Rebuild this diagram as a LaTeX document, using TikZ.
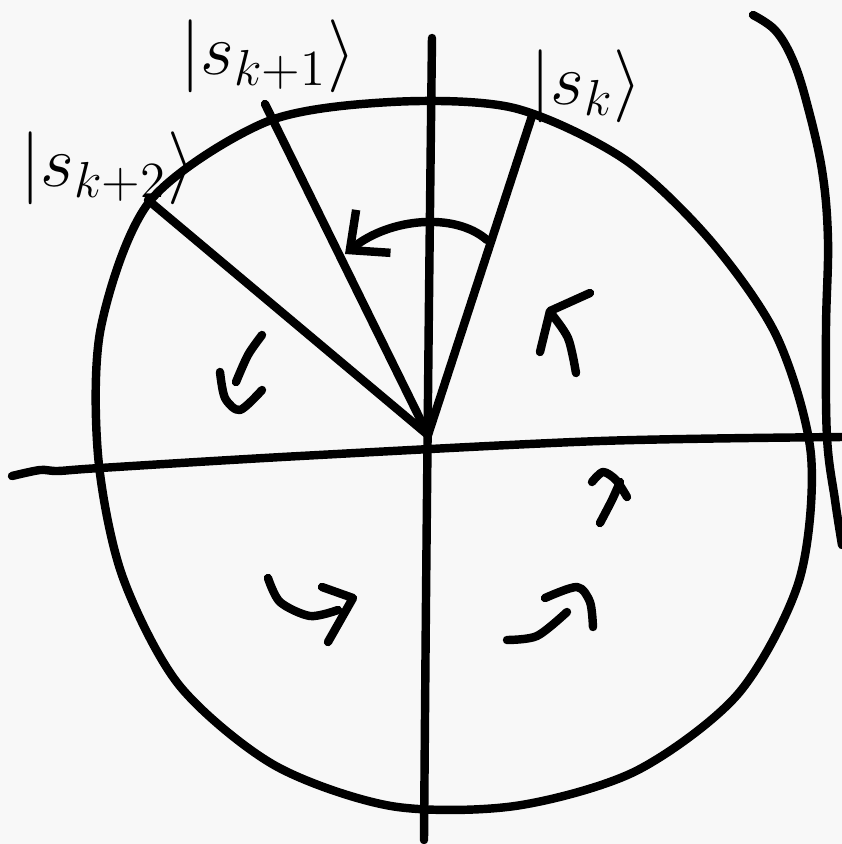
\documentclass[tikz,border=0pt]{standalone}
\usepackage{amsmath,amssymb}
\usetikzlibrary{arrows.meta,calc}
\definecolor{paper}{RGB}{248,248,248}
\definecolor{ink}{RGB}{0,0,0}
\tikzset{
  pen/.style={ink, line width=2.4pt, line cap=round, line join=round},
  ketlabel/.style={font=\fontsize{22}{26}\selectfont, inner sep=0pt}
}
\begin{document}
\begin{tikzpicture}[x=0.01cm, y=-0.01cm]
\fill[paper] (0,0) rectangle (842,844);
\useasboundingbox (0,0) rectangle (842,844);
\coordinate (O) at (428,435);
\coordinate (K) at (532,116);
\coordinate (K1) at (265,104);
\coordinate (K2) at (148,200);
% the circle, drawn by hand
\draw[pen] plot[smooth cycle] coordinates {
  (811,455) (777,337) (710,240) (624,159) (514,108) (391,102)
  (266,122) (150,201) (101,327) (98,455) (122,575) (179,685)
  (274,765) (391,806) (515,806) (636,771) (738,694) (799,581)};
% axes
\draw[pen] plot[smooth, tension=0.5] coordinates {(12,476) (40,470) (58,471) (100,468) (300,456) (600,441) (842,437)};
\draw[pen] plot[smooth, tension=0.5] coordinates {(432,38) (429,300) (426,600) (424,840)};
% right edge stroke
\draw[pen] plot[smooth, tension=0.6] coordinates {(753,15) (775,30) (792,58) (806,100) (822,170) (828,240) (826,330) (827,437) (835,500) (842,545)};
% states
\draw[pen] (O) -- (K);
\draw[pen] (O) -- (K1);
\draw[pen] (O) -- (K2);
\node[ketlabel, anchor=west] (sk) at (530,86) {$|s_k\rangle$};
\node[ketlabel] (skone) at (268,56) {$|s_{k+1}\rangle$};
\node[ketlabel, font=\fontsize{20}{24}\selectfont] (sktwo) at (108,168) {$|s_{k+2}\rangle$};
% rotation arc
\draw[pen, -{Straight Barb[length=0.3cm, width=0.55cm]}] (487,240) .. controls (455,212) and (390,218) .. (345,254);
% small turning arrows
\draw[pen] plot[smooth] coordinates {(576,373) (568,338) (550,312)};
\draw[pen] (590,293) -- (550,311) -- (540,352);
\draw[pen] plot[smooth] coordinates {(262,335) (248,355) (236,382)};
\draw[pen] plot[smooth] coordinates {(220,372) (225,398) (240,410) (262,390)};
\draw[pen] plot[smooth] coordinates {(592,482) (603,472) (616,480) (627,497)};
\draw[pen] plot[smooth] coordinates {(620,482) (612,500) (600,523)};
\draw[pen] plot[smooth] coordinates {(268,578) (280,602) (310,616) (338,610)};
\draw[pen] (322,587) -- (353,598) -- (328,642);
\draw[pen] plot[smooth] coordinates {(507,640) (537,636) (567,612)};
\draw[pen] plot[smooth] coordinates {(545,598) (577,587) (590,602) (593,627)};
\end{tikzpicture}
\end{document}
